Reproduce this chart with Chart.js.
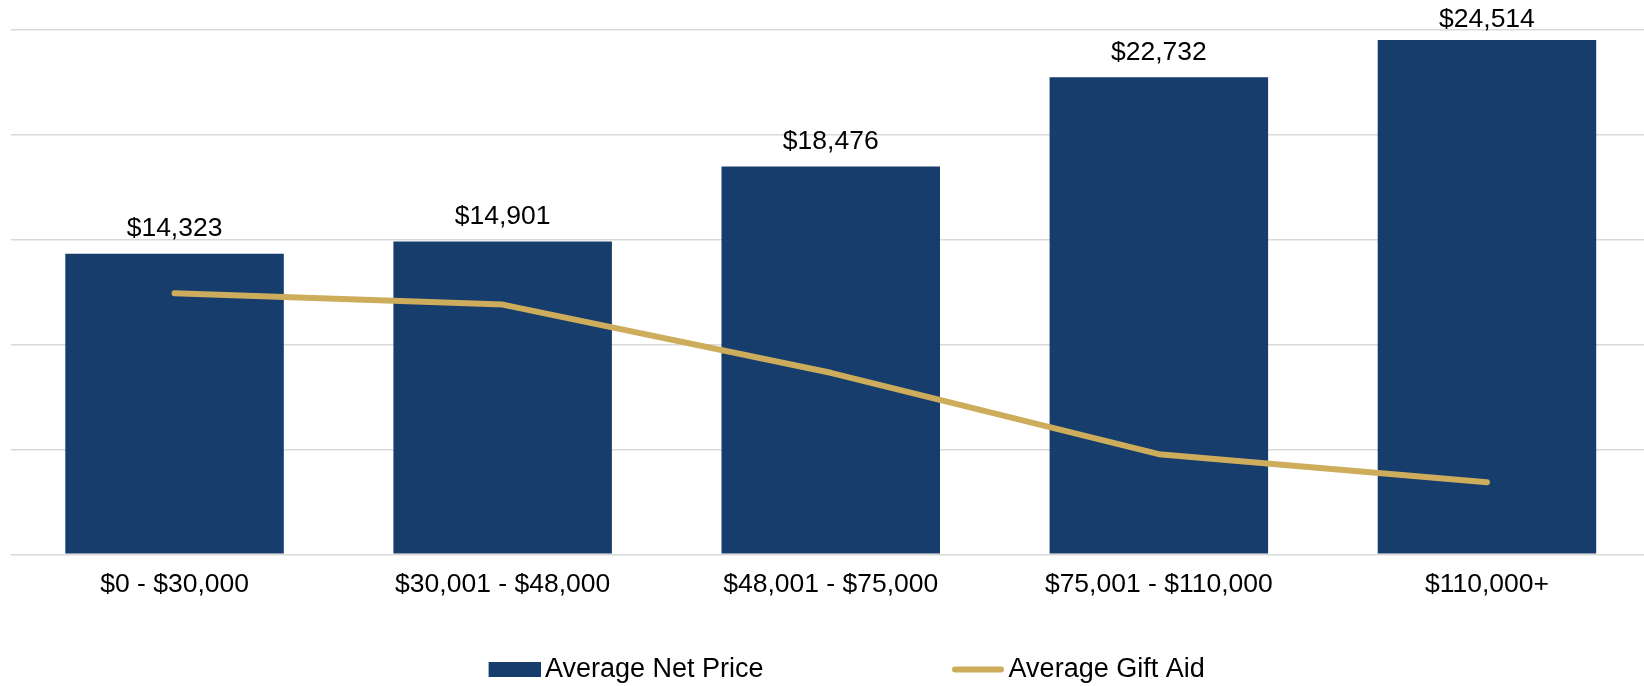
<!DOCTYPE html>
<html><head><meta charset="utf-8">
<script src="https://cdn.jsdelivr.net/npm/chart.js@4.4.1/dist/chart.umd.min.js"></script>
<style>html,body{margin:0;padding:0;background:#fff;overflow:hidden;}#wrap{width:1651px;height:686px;}</style>
</head><body><div id="wrap"><canvas id="c" width="1651" height="686"></canvas></div>
<script>
const categories = ['$0 - $30,000', '$30,001 - $48,000', '$48,001 - $75,000', '$75,001 - $110,000', '$110,000+'];
const netPrice = [14323, 14901, 18476, 22732, 24514];
const giftAid = [12440, 11900, 8650, 4770, 3430];
const seriesNames = ['Average Net Price', 'Average Gift Aid'];
const yMin = 0, yMax = 25000, yStep = 5000;

const FONT = '"Liberation Sans", Arial, sans-serif';
const BAR_COLOR = '#173D6D';
const LINE_COLOR = '#CDAD5C';
const fmt = v => '$' + v.toLocaleString('en-US');

const barLabels = {
  id: 'barLabels',
  afterDatasetsDraw(chart) {
    const meta = chart.getDatasetMeta(0);
    const ctx = chart.ctx;
    ctx.save();
    ctx.font = '26.5px ' + FONT;
    ctx.fillStyle = '#000';
    ctx.textAlign = 'center';
    ctx.textBaseline = 'alphabetic';
    meta.data.forEach((el, i) => {
      const y = Math.max(el.y - 17.5, 27);
      ctx.fillText(fmt(chart.data.datasets[0].data[i]), el.x, y);
    });
    ctx.restore();
  }
};

const bottomLegend = {
  id: 'bottomLegend',
  afterDraw(chart) {
    const ctx = chart.ctx;
    const ds = chart.data.datasets;
    const cy = 669.5;
    ctx.save();
    ctx.font = '27px ' + FONT;
    ctx.textBaseline = 'middle';
    ctx.textAlign = 'left';
    ctx.fillStyle = ds[0].backgroundColor;
    ctx.fillRect(488.6, cy - 7.5, 52.4, 15);
    ctx.fillStyle = '#000';
    ctx.fillText(ds[0].label, 545, cy);
    ctx.strokeStyle = ds[1].borderColor;
    ctx.lineWidth = 6;
    ctx.lineCap = 'round';
    ctx.beginPath();
    ctx.moveTo(955, cy);
    ctx.lineTo(1001, cy);
    ctx.stroke();
    ctx.fillStyle = '#000';
    ctx.fillText(ds[1].label, 1008.6, cy);
    ctx.restore();
  }
};

new Chart(document.getElementById('c'), {
  data: {
    labels: categories,
    datasets: [
      {
        type: 'bar',
        label: seriesNames[0],
        data: netPrice,
        backgroundColor: BAR_COLOR,
        borderWidth: 0,
        barPercentage: 0.666,
        categoryPercentage: 1.0,
        order: 1
      },
      {
        type: 'line',
        label: seriesNames[1],
        data: giftAid,
        borderColor: LINE_COLOR,
        backgroundColor: LINE_COLOR,
        borderWidth: 6,
        borderCapStyle: 'round',
        borderJoinStyle: 'round',
        pointRadius: 0,
        pointHoverRadius: 0,
        tension: 0,
        fill: false,
        order: 0
      }
    ]
  },
  options: {
    responsive: false,
    animation: false,
    devicePixelRatio: 1,
    layout: { padding: { left: 10.5, right: 0, top: 29.7, bottom: 81.7 } },
    plugins: { legend: { display: false }, tooltip: { enabled: false } },
    scales: {
      x: {
        grid: { display: false, drawTicks: false },
        border: { display: false },
        ticks: { color: '#000', font: { family: FONT, size: 26.5 }, padding: 14.5, maxRotation: 0, autoSkip: false },
        afterFit(scale) { scale.height = 50; }
      },
      y: {
        min: yMin, max: yMax,
        ticks: { display: false, stepSize: yStep },
        grid: { color: '#D9D9D9', lineWidth: 1.5, drawTicks: false },
        border: { display: false }
      }
    }
  },
  plugins: [barLabels, bottomLegend]
});
</script>
</body></html>
